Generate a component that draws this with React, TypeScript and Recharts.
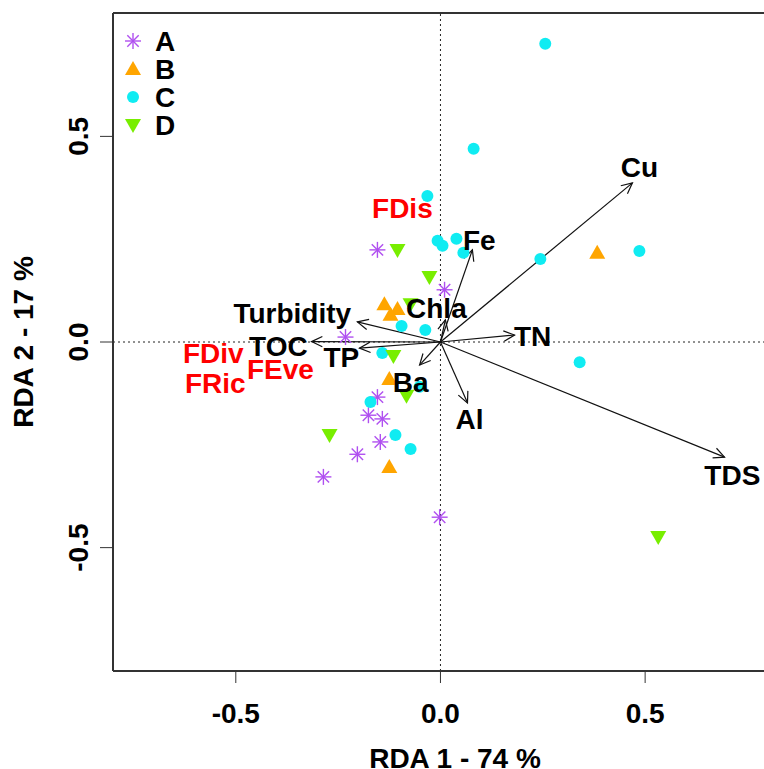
import React from 'react';
import { ScatterChart, Scatter, XAxis, YAxis, ReferenceLine, Legend } from 'recharts';

// site scores on RDA1 / RDA2, one list per group
const groupA = [
  { x: -0.154, y: 0.224 }, { x: 0.010, y: 0.127 }, { x: -0.232, y: 0.012 },
  { x: -0.154, y: -0.134 }, { x: -0.176, y: -0.178 }, { x: -0.142, y: -0.187 },
  { x: -0.147, y: -0.243 }, { x: -0.203, y: -0.273 }, { x: -0.286, y: -0.328 },
  { x: -0.002, y: -0.426 },
];
const groupB = [
  { x: -0.137, y: 0.092 }, { x: -0.105, y: 0.080 }, { x: -0.122, y: 0.066 },
  { x: 0.383, y: 0.217 }, { x: -0.125, y: -0.090 }, { x: -0.125, y: -0.304 },
];
const groupC = [
  { x: 0.256, y: 0.725 }, { x: 0.081, y: 0.470 }, { x: -0.032, y: 0.355 },
  { x: -0.007, y: 0.246 }, { x: 0.005, y: 0.234 }, { x: 0.039, y: 0.251 },
  { x: 0.056, y: 0.217 }, { x: -0.095, y: 0.039 }, { x: -0.037, y: 0.029 },
  { x: 0.244, y: 0.202 }, { x: 0.486, y: 0.221 }, { x: 0.340, y: -0.049 },
  { x: -0.142, y: -0.027 }, { x: -0.171, y: -0.146 }, { x: -0.110, y: -0.226 },
  { x: -0.073, y: -0.260 }, { x: -0.051, y: -0.109 },
];
const groupD = [
  { x: -0.105, y: 0.224 }, { x: -0.027, y: 0.158 }, { x: -0.073, y: 0.092 },
  { x: -0.115, y: -0.034 }, { x: -0.083, y: -0.131 }, { x: -0.271, y: -0.226 },
  { x: 0.532, y: -0.474 },
];

// environmental vectors (arrow tip) and where their names sit
const envVectors = [
  { name: 'Cu', x: 0.469, y: 0.387, lx: 0.486, ly: 0.426 },
  { name: 'TDS', x: 0.694, y: -0.280, lx: 0.713, ly: -0.323 },
  { name: 'TN', x: 0.181, y: 0.017, lx: 0.225, ly: 0.015 },
  { name: 'Fe', x: 0.078, y: 0.224, lx: 0.095, ly: 0.248 },
  { name: 'Chla', x: 0.012, y: 0.054, lx: -0.010, ly: 0.083 },
  { name: 'Turbidity', x: -0.203, y: 0.049, lx: -0.362, ly: 0.071 },
  { name: 'TOC', x: -0.315, y: 0.001, lx: -0.396, ly: -0.010 },
  { name: 'TP', x: -0.198, y: -0.015, lx: -0.242, ly: -0.036 },
  { name: 'Ba', x: -0.051, y: -0.056, lx: -0.073, ly: -0.097 },
  { name: 'Al', x: 0.066, y: -0.148, lx: 0.071, ly: -0.187 },
];

// functional diversity indices (text only)
const fdIndices = [
  { name: 'FDis', x: -0.093, y: 0.326 },
  { name: 'FDiv', x: -0.555, y: -0.027 },
  { name: 'FRic', x: -0.550, y: -0.100 },
  { name: 'FEve', x: -0.391, y: -0.066 },
];

const groupNames = ['A', 'B', 'C', 'D'];
const axisTicks = [-0.5, 0, 0.5];

const PURPLE = '#B050F0';
const ORANGE = '#FFA500';
const CYAN = '#10ECF2';
const GREEN = '#78EE00';
const FONT = '"Liberation Sans", Arial, Helvetica, sans-serif';

const Asterisk = ({ cx, cy }: any) => {
  const d = 5.7;
  return (
    <g stroke={PURPLE} strokeWidth={1.4}>
      <line x1={cx - 8} y1={cy} x2={cx + 8} y2={cy} />
      <line x1={cx} y1={cy - 8} x2={cx} y2={cy + 8} />
      <line x1={cx - d} y1={cy - d} x2={cx + d} y2={cy + d} />
      <line x1={cx - d} y1={cy + d} x2={cx + d} y2={cy - d} />
    </g>
  );
};
const TriUp = ({ cx, cy }: any) => (
  <polygon points={`${cx},${cy - 8} ${cx + 8},${cy + 6} ${cx - 8},${cy + 6}`} fill={ORANGE} />
);
const Dot = ({ cx, cy }: any) => <circle cx={cx} cy={cy} r={6} fill={CYAN} />;
const TriDown = ({ cx, cy }: any) => (
  <polygon points={`${cx - 8},${cy - 6} ${cx + 8},${cy - 6} ${cx},${cy + 8}`} fill={GREEN} />
);

const symbols = [Asterisk, TriUp, Dot, TriDown];

const Arrow = (props: any) => {
  const { x1, y1, x2, y2 } = props;
  const ang = Math.atan2(y2 - y1, x2 - x1);
  const len = 12;
  const spread = Math.PI / 7;
  const h1x = x2 - len * Math.cos(ang - spread);
  const h1y = y2 - len * Math.sin(ang - spread);
  const h2x = x2 - len * Math.cos(ang + spread);
  const h2y = y2 - len * Math.sin(ang + spread);
  return (
    <g stroke="#111" strokeWidth={1.2} fill="none">
      <line x1={x1} y1={y1} x2={x2} y2={y2} />
      <polyline points={`${h1x},${h1y} ${x2},${y2} ${h2x},${h2y}`} />
    </g>
  );
};

const labelShape = (color: string) => (p: any) => (
  <text
    x={p.cx}
    y={p.cy}
    dy={10}
    textAnchor="middle"
    fill={color}
    fontFamily={FONT}
    fontWeight="bold"
    fontSize={28}
  >
    {p.payload.name}
  </text>
);

const XTick = ({ x, y, payload }: any) => (
  <text x={x} y={y + 40} textAnchor="middle" fontFamily={FONT} fontWeight="bold" fontSize={28} fill="#000">
    {payload.value.toFixed(1)}
  </text>
);

const YTick = ({ x, y, payload }: any) => (
  <text
    x={x - 12}
    y={y}
    transform={`rotate(-90, ${x - 12}, ${y})`}
    textAnchor="middle"
    fontFamily={FONT}
    fontWeight="bold"
    fontSize={28}
    fill="#000"
  >
    {payload.value.toFixed(1)}
  </text>
);

const GroupLegend = () => (
  <svg width={70} height={120}>
    {groupNames.map((g, i) => {
      const Sym = symbols[i];
      const cy = 15 + i * 28;
      return (
        <g key={g}>
          <Sym cx={15} cy={cy} />
          <text x={37} y={cy + 10} fontFamily={FONT} fontWeight="bold" fontSize={28} fill="#000">
            {g}
          </text>
        </g>
      );
    })}
  </svg>
);

export default function App() {
  return (
    <div style={{ position: 'absolute', left: 0, top: 0, width: 764, height: 769, overflow: 'hidden', background: '#fff' }}>
      <ScatterChart width={807} height={769} margin={{ top: 13, right: 10, bottom: 0, left: 0 }}>
        <XAxis
          type="number"
          dataKey="x"
          domain={[-0.8, 0.871]}
          ticks={axisTicks}
          allowDataOverflow
          height={98}
          tickSize={12}
          tickMargin={0}
          tick={<XTick />}
          axisLine={{ stroke: '#333', strokeWidth: 2 }}
          tickLine={{ stroke: '#333', strokeWidth: 1 }}
          label={({ viewBox }: any) => (
            <text
              x={viewBox.x + viewBox.width / 2}
              y={viewBox.y + 97}
              textAnchor="middle"
              fontFamily={FONT}
              fontWeight="bold"
              fontSize={28}
              fill="#000"
            >
              RDA 1 - 74 %
            </text>
          )}
        />
        <YAxis
          type="number"
          dataKey="y"
          domain={[-0.8, 0.8]}
          ticks={axisTicks}
          allowDataOverflow
          width={113}
          tickSize={13}
          tickMargin={0}
          tick={<YTick />}
          axisLine={{ stroke: '#333', strokeWidth: 2 }}
          tickLine={{ stroke: '#333', strokeWidth: 1 }}
          label={({ viewBox }: any) => {
            const cx = 33;
            const cy = viewBox.y + viewBox.height / 2;
            return (
              <text
                x={cx}
                y={cy}
                transform={`rotate(-90, ${cx}, ${cy})`}
                textAnchor="middle"
                fontFamily={FONT}
                fontWeight="bold"
                fontSize={28}
                fill="#000"
              >
                RDA 2 - 17 %
              </text>
            );
          }}
        />
        <ReferenceLine y={0.8} stroke="#333" strokeWidth={2} />
        <ReferenceLine x={0} stroke="#222" strokeDasharray="2 3" />
        <ReferenceLine y={0} stroke="#222" strokeDasharray="2 3" />

        <Scatter name="A" data={groupA} shape={<Asterisk />} isAnimationActive={false} />
        <Scatter name="B" data={groupB} shape={<TriUp />} isAnimationActive={false} />
        <Scatter name="C" data={groupC} shape={<Dot />} isAnimationActive={false} />
        <Scatter name="D" data={groupD} shape={<TriDown />} isAnimationActive={false} />

        {envVectors.map((v) => (
          <ReferenceLine
            key={v.name}
            segment={[{ x: 0, y: 0 }, { x: v.x, y: v.y }]}
            ifOverflow="visible"
            shape={<Arrow />}
          />
        ))}

        <Scatter
          data={envVectors.map((v) => ({ x: v.lx, y: v.ly, name: v.name }))}
          shape={labelShape('#000')}
          isAnimationActive={false}
        />
        <Scatter data={fdIndices} shape={labelShape('#FF0000')} isAnimationActive={false} />

        <Legend
          layout="vertical"
          align="center"
          verticalAlign="middle"
          content={<GroupLegend />}
          wrapperStyle={{ left: 118, top: 26, width: 70, height: 120 }}
        />
      </ScatterChart>
    </div>
  );
}
